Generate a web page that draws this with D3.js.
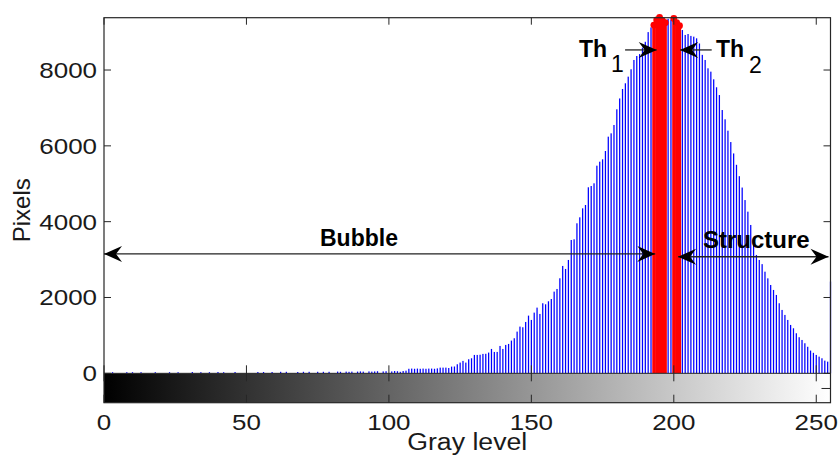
<!DOCTYPE html>
<html>
<head>
<meta charset="utf-8">
<script src="https://cdn.jsdelivr.net/npm/d3@7"></script>
<style>
  html, body { margin: 0; padding: 0; background: #fff; }
  svg { display: block; font-family: "Liberation Sans", Arial, sans-serif; }
</style>
</head>
<body>
<svg id="chart" width="840" height="455"></svg>
<script>
// histogram of gray levels 0..255 (pixel counts)
const pixelCounts = [
  0,0,0,30,0,0,0,0,30,0,30,0,0,30,0,0,
  0,0,30,0,0,0,0,30,0,0,30,0,0,0,0,35,
  0,0,30,0,0,30,0,0,35,0,30,0,0,0,35,0,
  0,0,0,0,0,0,35,0,35,0,0,35,0,0,40,0,
  40,0,0,0,35,0,40,0,40,0,0,40,0,40,0,40,
  0,0,45,40,0,45,40,45,0,45,50,45,0,50,45,50,
  55,0,50,55,0,50,60,55,40,60,70,120,125,120,125,120,
  125,120,125,125,120,130,150,150,150,140,177,180,239,283,327,283,
  371,397,485,485,490,512,515,547,643,564,564,722,643,749,775,863,
  925,1100,1232,1215,1355,1522,1408,1601,1733,1566,1848,1821,1900,1960,2155,2225,
  2507,2832,2753,2990,3517,3535,3957,4115,4352,4440,4907,4941,5012,5477,5582,5645,
  5864,6242,6330,6550,6964,7250,7500,7650,7825,8020,8265,8370,8420,8590,8745,9000,
  9125,9185,9320,9390,9300,9250,9350,9330,9360,9250,9170,9055,8925,8950,8900,8880,
  8836,8700,8400,8265,8045,7957,7755,7545,7340,6945,6700,6400,6100,5800,5500,5200,
  4900,4570,4264,3913,3517,3122,2990,2880,2681,2505,2330,2199,2067,1848,1672,1540,
  1408,1276,1188,1057,952,880,793,700,600,540,485,440,397,335,308,2420
];
const th1Levels = [193, 194, 195, 196, 197];
const th2Levels = [200, 201, 202];
const xTicks = [0, 50, 100, 150, 200, 250];
const yTicks = [0, 2000, 4000, 6000, 8000];

const box = { left: 104, right: 830.5, top: 17.7, bottom: 402.7 };
const x = d3.scaleLinear().domain([0, 255]).range([box.left, box.right]);
const y = d3.scaleLinear().domain([-775, 9380]).range([box.bottom, box.top]);

const svg = d3.select('#chart');
svg.append('rect').attr('width', 840).attr('height', 455).attr('fill', '#fff');

// gray colorbar under the zero line
const grad = svg.append('defs').append('linearGradient').attr('id', 'grayGrad');
grad.append('stop').attr('offset', 0).attr('stop-color', d3.rgb(0, 0, 0));
grad.append('stop').attr('offset', 1).attr('stop-color', d3.rgb(255, 255, 255));
svg.append('rect')
  .attr('x', x(0)).attr('y', y(0))
  .attr('width', x(255) - x(0)).attr('height', box.bottom - y(0))
  .attr('fill', 'url(#grayGrad)');

// blue histogram bars
const isRed = new Set([...th1Levels, ...th2Levels]);
const bars = pixelCounts.map((v, i) => ({ g: i, v })).filter(d => d.v > 0 && !isRed.has(d.g));
svg.append('g').selectAll('rect').data(bars).enter().append('rect')
  .attr('x', d => x(d.g) - 0.62)
  .attr('width', 1.25)
  .attr('y', d => y(d.v))
  .attr('height', d => y(0) - y(d.v))
  .attr('fill', '#0000ff');

// red threshold stems
const red = [...th1Levels, ...th2Levels].map(g => ({ g, v: pixelCounts[g] }));
const redG = svg.append('g');
redG.selectAll('line').data(red).enter().append('line')
  .attr('x1', d => x(d.g)).attr('x2', d => x(d.g))
  .attr('y1', y(0)).attr('y2', d => y(d.v))
  .attr('stroke', '#ff0000').attr('stroke-width', 3.2);
redG.selectAll('circle').data(red).enter().append('circle')
  .attr('cx', d => x(d.g)).attr('cy', d => y(d.v))
  .attr('r', 3.4).attr('fill', '#ff0000');

// axes frame + ticks
const axisCol = '#262626';
const tk = svg.append('g').attr('stroke', axisCol).attr('stroke-width', 1);
xTicks.forEach(v => {
  tk.append('line').attr('x1', x(v)).attr('x2', x(v)).attr('y1', box.top).attr('y2', box.top + 7);
  tk.append('line').attr('x1', x(v)).attr('x2', x(v)).attr('y1', box.bottom).attr('y2', box.bottom - 8);
  tk.append('line').attr('x1', x(v)).attr('x2', x(v)).attr('y1', y(0) - 8).attr('y2', y(0) + 8);
});
yTicks.forEach(v => {
  tk.append('line').attr('x1', box.left).attr('x2', box.left + 7).attr('y1', y(v)).attr('y2', y(v));
  tk.append('line').attr('x1', box.right).attr('x2', box.right - 7).attr('y1', y(v)).attr('y2', y(v));
});
tk.append('line').attr('x1', box.right).attr('x2', box.right - 9).attr('y1', y(-400)).attr('y2', y(-400));
tk.append('line').attr('x1', box.left).attr('x2', box.right).attr('y1', y(0)).attr('y2', y(0));
svg.append('rect')
  .attr('x', box.left).attr('y', box.top)
  .attr('width', box.right - box.left).attr('height', box.bottom - box.top)
  .attr('fill', 'none').attr('stroke', axisCol).attr('stroke-width', 1.2);

// tick labels (the figure is a bit wide, so stretch text horizontally)
const sx = 1.18;
const lab = svg.append('g').attr('font-size', 22).attr('fill', '#1a1a1a');
xTicks.forEach(v => {
  lab.append('text').attr('text-anchor', 'middle')
    .attr('transform', `translate(${x(v)},430) scale(${sx},1)`).text(v);
});
yTicks.forEach(v => {
  lab.append('text').attr('text-anchor', 'end')
    .attr('transform', `translate(97,${y(v) + 8}) scale(${sx},1)`).text(v);
});
svg.append('text').attr('font-size', 23).attr('text-anchor', 'middle').attr('fill', '#1a1a1a')
  .attr('transform', `translate(${(box.left + box.right) / 2},450) scale(1.16,1)`).text('Gray level');
svg.append('text').attr('font-size', 24).attr('text-anchor', 'middle').attr('fill', '#1a1a1a')
  .attr('transform', `translate(30,${(box.top + box.bottom) / 2}) rotate(-90)`).text('Pixels');

// annotation arrows
const head = 'M0,0 L-18,-8 L-12,0 L-18,8 Z';
function arrow(g0, g1, v, startHead, endHead) {
  const a = svg.append('g');
  a.append('line').attr('x1', x(g0)).attr('x2', x(g1)).attr('y1', y(v)).attr('y2', y(v))
    .attr('stroke', '#222').attr('stroke-width', 1.3);
  if (endHead) a.append('path').attr('d', head).attr('fill', '#000')
    .attr('transform', `translate(${x(g1)},${y(v)})`);
  if (startHead) a.append('path').attr('d', head).attr('fill', '#000')
    .attr('transform', `translate(${x(g0)},${y(v)}) rotate(180)`);
}
arrow(0, 193.5, 3150, true, true);
arrow(201.5, 254.3, 3075, true, true);
arrow(182.9, 194, 8530, false, true);
arrow(202.2, 213.3, 8530, true, false);

const ann = svg.append('g').attr('fill', '#000');
ann.append('text').attr('font-size', 23).attr('font-weight', 'bold')
  .attr('x', 320).attr('y', 245.5).text('Bubble');
ann.append('text').attr('font-size', 24).attr('font-weight', 'bold')
  .attr('x', 703).attr('y', 247.5).text('Structure');
ann.append('text').attr('font-size', 23).attr('font-weight', 'bold')
  .attr('x', 579).attr('y', 57).text('Th');
ann.append('text').attr('font-size', 23).attr('x', 611).attr('y', 72).text('1');
ann.append('text').attr('font-size', 23).attr('font-weight', 'bold')
  .attr('x', 716).attr('y', 57).text('Th');
ann.append('text').attr('font-size', 23).attr('x', 749).attr('y', 73).text('2');
</script>
</body>
</html>
